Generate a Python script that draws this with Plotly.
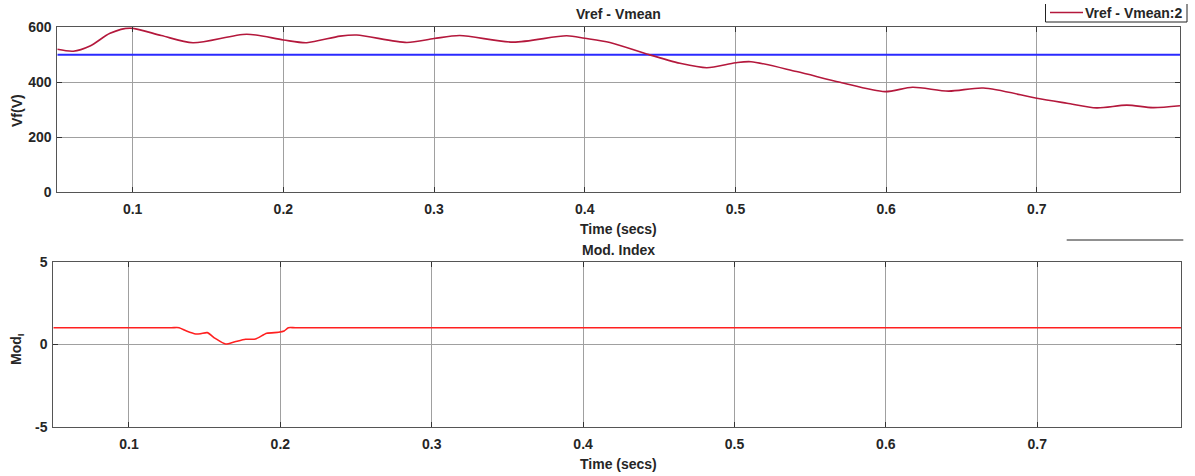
import plotly.graph_objects as go

# ---- data ----
t_vf = [0.050, 0.0606, 0.0717, 0.085, 0.0982, 0.119, 0.140, 0.1757, 0.200, 0.2155,
        0.2376, 0.2487, 0.2819, 0.300, 0.317, 0.3526, 0.388, 0.400, 0.4167, 0.4411,
        0.4632, 0.481, 0.500, 0.5103, 0.5406, 0.5694, 0.5992, 0.6175, 0.6414, 0.6645,
        0.700, 0.720, 0.7397, 0.7597, 0.777, 0.795]
vf = [520, 513, 532, 578, 597, 570, 544, 575, 554, 544,
      568, 572, 545, 559, 570, 546, 569, 560, 545, 503,
      469, 453, 471, 475, 439, 400, 366, 382, 368, 379,
      342, 324, 307, 317, 308, 315]

t_ref = [0.050, 0.795]
vref = [500, 500]

t_mod = [0.050, 0.128, 0.1331, 0.138, 0.1441, 0.1475, 0.1517, 0.157, 0.1638, 0.170,
         0.177, 0.1835, 0.191, 0.1988, 0.2025, 0.2053, 0.210, 0.790, 0.795]
mod = [1.0, 1.0, 1.0, 0.80, 0.62, 0.64, 0.70, 0.35, 0.01, 0.15,
       0.30, 0.31, 0.66, 0.72, 0.80, 1.0, 1.0, 1.0, 1.0]

x_ticks = [0.1, 0.2, 0.3, 0.4, 0.5, 0.6, 0.7]
x_tick_labels = ["0.1", "0.2", "0.3", "0.4", "0.5", "0.6", "0.7"]
vf_ticks = [0, 200, 400, 600]
mod_ticks = [-5, 0, 5]
mod_tick_labels = ["-5", "0", "5"]

legend_label = "Vref - Vmean:2"

W, H = 1195, 476
FONT = "Liberation Sans, Arial, sans-serif"
TXT = "#262626"
VF_COLOR = "#b4183c"

fig = go.Figure()
fig.add_trace(go.Scatter(x=t_ref, y=vref, mode="lines", line=dict(color="#2a2aff", width=2),
                         showlegend=False, xaxis="x", yaxis="y"))
fig.add_trace(go.Scatter(x=t_vf, y=vf, mode="lines", name=legend_label, showlegend=False,
                         line=dict(color=VF_COLOR, width=1.6, shape="spline", smoothing=0.8),
                         xaxis="x", yaxis="y"))
fig.add_trace(go.Scatter(x=t_mod, y=mod, mode="lines",
                         line=dict(color="#ff2020", width=1.6, shape="spline", smoothing=0.6),
                         showlegend=False, xaxis="x2", yaxis="y2"))


def px_x(p):
    return p / W


def px_y(p):
    return 1 - p / H


axis_common = dict(showline=True, mirror="ticks", linecolor="#555555", linewidth=1,
                   ticks="inside", ticklen=5, tickcolor="#333333",
                   showgrid=True, gridcolor="#a0a0a0", gridwidth=1, zeroline=False,
                   tickfont=dict(family=FONT, size=14, color=TXT, weight="bold"),
                   automargin=False)

fig.update_layout(
    width=W, height=H,
    margin=dict(l=0, r=0, t=0, b=0),
    paper_bgcolor="white", plot_bgcolor="white",
    font=dict(family=FONT, color=TXT, weight="bold"),
    showlegend=False,
    xaxis=dict(domain=[px_x(57.3), px_x(1180)], range=[0.05, 0.795], anchor="y",
               tickvals=x_ticks, ticktext=x_tick_labels, ticklabelstandoff=4, **axis_common),
    yaxis=dict(domain=[px_y(192.3), px_y(27.3)], range=[0, 600], anchor="x",
               tickvals=vf_ticks, ticklabelstandoff=2, **axis_common),
    xaxis2=dict(domain=[px_x(53.3), px_x(1181)], range=[0.05, 0.795], anchor="y2",
                tickvals=x_ticks, ticktext=x_tick_labels, ticklabelstandoff=4, **axis_common),
    yaxis2=dict(domain=[px_y(426.7), px_y(261.7)], range=[-5, 5], anchor="x2",
                tickvals=mod_ticks, ticktext=mod_tick_labels, ticklabelstandoff=2, **axis_common),
)

ann_font = dict(family=FONT, size=14, color=TXT, weight="bold")
annotations = [
    dict(text="Vref - Vmean", x=px_x(618.5), y=px_y(14), xref="paper", yref="paper",
         xanchor="center", yanchor="middle", showarrow=False, font=ann_font),
    dict(text="Time (secs)", x=px_x(618.5), y=px_y(229), xref="paper", yref="paper",
         xanchor="center", yanchor="middle", showarrow=False, font=ann_font),
    dict(text="Vf(V)", x=px_x(17), y=px_y(111), xref="paper", yref="paper", textangle=-90,
         xanchor="center", yanchor="middle", showarrow=False, font=ann_font),
    dict(text="Mod. Index", x=px_x(618), y=px_y(250), xref="paper", yref="paper",
         xanchor="center", yanchor="middle", showarrow=False, font=ann_font),
    dict(text="Time (secs)", x=px_x(618), y=px_y(464), xref="paper", yref="paper",
         xanchor="center", yanchor="middle", showarrow=False, font=ann_font),
    dict(text="Mod<sub>I</sub>", x=px_x(17), y=px_y(349), xref="paper", yref="paper", textangle=-90,
         xanchor="center", yanchor="middle", showarrow=False, font=ann_font),
    # legend text
    dict(text=legend_label, x=px_x(1184), y=px_y(13), xref="paper", yref="paper",
         xanchor="right", yanchor="middle", showarrow=False, font=ann_font),
]
fig.update_layout(annotations=annotations)

frame = dict(color="#222222", width=1)
shapes = [
    # legend box (left, right, bottom edges)
    dict(type="line", xref="paper", yref="paper", x0=px_x(1045.5), x1=px_x(1045.5),
         y0=px_y(4), y1=px_y(22), line=frame),
    dict(type="line", xref="paper", yref="paper", x0=px_x(1187), x1=px_x(1187),
         y0=px_y(4), y1=px_y(22), line=frame),
    dict(type="line", xref="paper", yref="paper", x0=px_x(1045.5), x1=px_x(1187),
         y0=px_y(22), y1=px_y(22), line=frame),
    # legend sample line
    dict(type="line", xref="paper", yref="paper", x0=px_x(1050), x1=px_x(1083),
         y0=px_y(12.5), y1=px_y(12.5), line=dict(color=VF_COLOR, width=1.5)),
    # stray legend remnant line
    dict(type="line", xref="paper", yref="paper", x0=px_x(1066.7), x1=px_x(1183.3),
         y0=px_y(240), y1=px_y(240), line=frame),
]
fig.update_layout(shapes=shapes)

fig.write_html("out.html")
